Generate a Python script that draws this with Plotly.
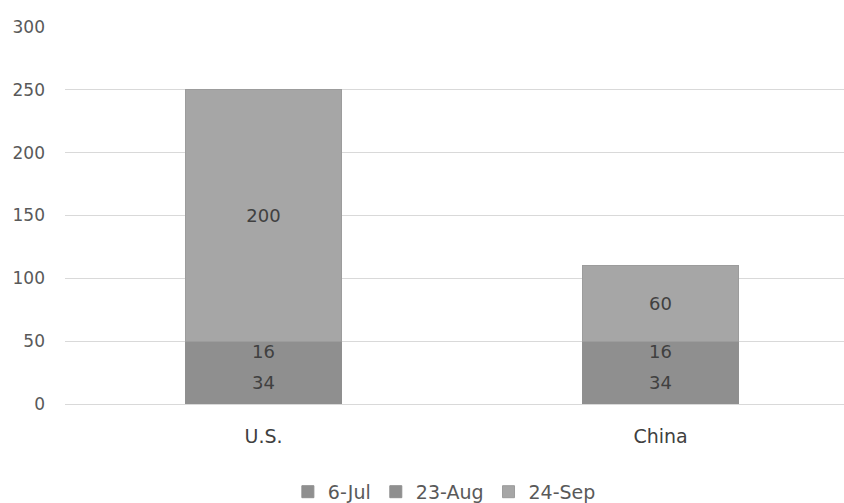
import plotly.graph_objects as go

categories = ["U.S.", "China"]
series_names = ["6-Jul", "23-Aug", "24-Sep"]
jul6 = [34, 34]
aug23 = [16, 16]
sep24 = [200, 60]
colors = ["#8f8f8f", "#8f8f8f", "#a6a6a6"]
edge_colors = ["#8f8f8f", "#8f8f8f", "#9c9c9c"]
y_ticks = [0, 50, 100, 150, 200, 250, 300]

FONT = "DejaVu Sans"

fig = go.Figure()
for name, vals, col, ec in zip(series_names, [jul6, aug23, sep24], colors, edge_colors):
    fig.add_trace(go.Bar(
        x=categories, y=vals, name=name,
        marker=dict(color=col, line=dict(color=ec, width=1)),
        width=0.395,
        text=[str(v) for v in vals],
        textposition="inside", insidetextanchor="middle", textangle=0,
        textfont=dict(size=18, color="#404040", family=FONT),
        constraintext="none",
    ))

fig.update_layout(
    barmode="stack",
    width=844, height=503,
    margin=dict(l=65, r=0, t=27, b=99, autoexpand=False),
    plot_bgcolor="white", paper_bgcolor="white",
    font=dict(family=FONT, color="#595959"),
    uniformtext=dict(mode=False),
    xaxis=dict(range=[-0.5, 1.462], showgrid=False, showline=False, zeroline=False,
               tickfont=dict(size=19, color="#404040"), ticklabelstandoff=19, ticks="",
               automargin=False),
    yaxis=dict(range=[0, 300], tickvals=y_ticks, showgrid=True, gridcolor="#d9d9d9",
               gridwidth=1, zeroline=True, zerolinecolor="#d9d9d9", zerolinewidth=1,
               tickfont=dict(size=17, color="#595959"), ticklabelstandoff=19, ticks="",
               automargin=False),
    legend=dict(orientation="h", x=0.487, xanchor="center", y=-0.233, yanchor="middle",
                font=dict(size=19, color="#595959"), traceorder="normal",
                itemwidth=30),
    showlegend=True,
)

fig.write_html(
    "out.html",
    config={"displayModeBar": False},
    post_script="document.body.style.margin='0';document.body.style.overflow='hidden';",
)
